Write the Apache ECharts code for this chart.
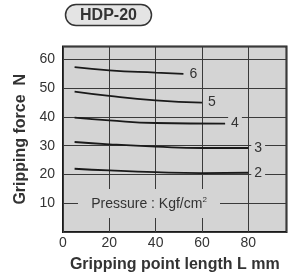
<!DOCTYPE html>
<html><head><meta charset="utf-8">
<script src="https://cdn.jsdelivr.net/npm/echarts@6/dist/echarts.min.js"></script>
<style>html,body{margin:0;padding:0;background:#fff}#c{width:294px;height:278px}</style>
</head><body><div id="c"></div>
<script>
const pressures = ['6', '5', '4', '3', '2'];
const lengths6 = [5, 20, 40, 52];
const force6 = [57.3, 56.2, 55.4, 55.0];
const lengths5 = [5, 20, 40, 60];
const force5 = [48.8, 47.3, 45.8, 45.0];
const lengths4 = [5, 20, 40, 70];
const force4 = [39.8, 38.8, 37.9, 37.7];
const lengths3 = [5, 20, 40, 60, 80];
const force3 = [31.3, 30.5, 29.7, 29.2, 29.2];
const lengths2 = [5, 20, 40, 60, 80];
const force2 = [22.0, 21.4, 20.8, 20.5, 20.6];
const xTicks = [0, 20, 40, 60, 80];
const yTicks = [10, 20, 30, 40, 50, 60];

const curves = [[lengths6, force6], [lengths5, force5], [lengths4, force4], [lengths3, force3], [lengths2, force2]];
const FONT = 'Liberation Sans';
const chart = echarts.init(document.getElementById('c'));
chart.setOption({
  animation: false,
  textStyle: { fontFamily: FONT },
  grid: { left: 63, right: 7.5, top: 46.5, bottom: 45.5, show: true, backgroundColor: '#d4d4d4', borderColor: '#1a1a1a', borderWidth: 2, z: 0 },
  xAxis: {
    type: 'value', min: 0, max: 96.5, interval: 20,
    axisLine: { show: false }, axisTick: { show: false },
    axisLabel: { color: '#333', fontSize: 14, margin: 4, fontFamily: FONT,
      formatter: v => xTicks.includes(v) ? String(v) : '' },
    splitLine: { lineStyle: { color: '#3a3a3a', width: 1 } },
    name: 'Gripping point length L mm', nameLocation: 'middle', nameGap: 25,
    nameTextStyle: { fontSize: 16, fontWeight: 'bold', color: '#333', fontFamily: FONT }
  },
  yAxis: {
    type: 'value', min: 0, max: 64.5, interval: 10,
    axisLine: { show: false }, axisTick: { show: false },
    axisLabel: { color: '#333', fontSize: 14, margin: 8, fontFamily: FONT,
      formatter: v => yTicks.includes(v) ? String(v) : '' },
    splitLine: { lineStyle: { color: '#3a3a3a', width: 1 } },
    name: 'Gripping force  N', nameLocation: 'middle', nameGap: 30,
    nameTextStyle: { fontSize: 16, fontWeight: 'bold', color: '#333', fontFamily: FONT }
  },
  series: curves.map((c, i) => ({
    type: 'line', name: pressures[i], smooth: true, symbol: 'none', z: 3,
    data: c[0].map((x, j) => [x, c[1][j]]),
    lineStyle: { color: '#1a1a1a', width: 1.8 },
    endLabel: { show: true, formatter: '{a}', distance: 3, color: '#333', fontSize: 14,
      fontFamily: FONT, backgroundColor: '#d4d4d4', padding: [1, 3] }
  })),
  graphic: [
    { type: 'rect', shape: { x: 78, y: 189, width: 142, height: 29 }, z: 9,
      style: { fill: '#d4d4d4' } },
    { type: 'text', x: 149, y: 204, z: 10,
      style: { text: 'Pressure : Kgf/cm{s|2}', fontSize: 14, fill: '#333', fontFamily: FONT,
        align: 'center', verticalAlign: 'middle',
        rich: { s: { fontSize: 8, fill: '#333', fontFamily: FONT, verticalAlign: 'top', padding: [0, 0, 8, 0] } } } },
    { type: 'rect', shape: { x: 65.5, y: 4.5, width: 86, height: 21, r: 10.5 }, z: 10,
      style: { fill: '#e4e4e4', stroke: '#333', lineWidth: 1.5 } },
    { type: 'text', z: 11, x: 108.5, y: 15.5,
      style: { text: 'HDP-20', fontSize: 16, fontWeight: 'bold', fill: '#333', fontFamily: FONT,
        align: 'center', verticalAlign: 'middle' } }
  ]
});
</script></body></html>
